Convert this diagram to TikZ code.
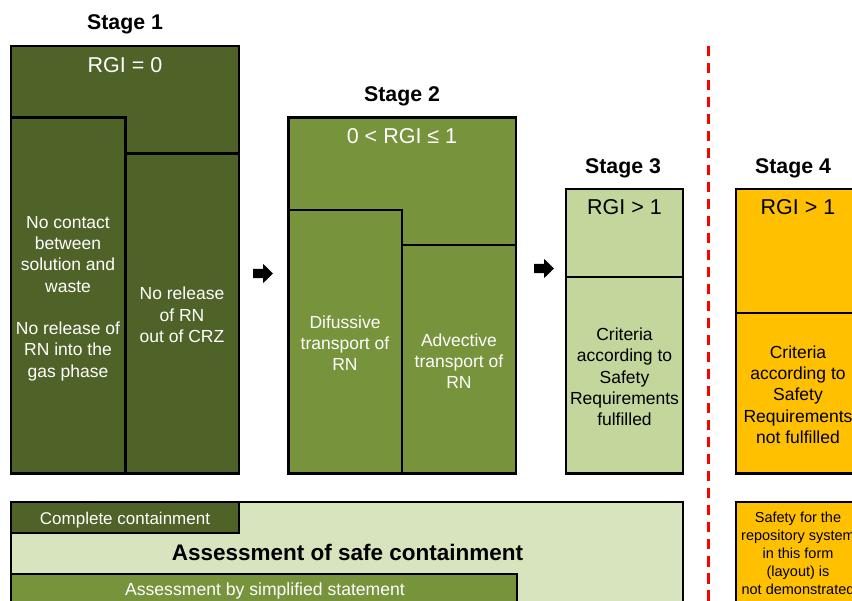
\documentclass[tikz,border=0pt]{standalone}
\usepackage{fontspec}
\setmainfont{Liberation Sans}
\definecolor{dkg}{HTML}{4F6228}
\definecolor{mdg}{HTML}{77933C}
\definecolor{ltg}{HTML}{C3D69B}
\definecolor{vlg}{HTML}{D7E4BD}
\definecolor{org}{HTML}{FFC000}
\tikzset{
  box/.style={draw=black, line width=2.3pt},
  thinbox/.style={draw=black, line width=2pt},
  ttl/.style={font=\fontsize{21.3}{24}\selectfont\bfseries, anchor=base, inner sep=0},
  rgi/.style={font=\fontsize{21.5}{24}\selectfont, anchor=base, inner sep=0},
  body/.style={font=\fontsize{17.5}{21.3}\selectfont, align=center, inner sep=0},
  small/.style={font=\fontsize{14.5}{18}\selectfont, align=center, inner sep=0},
  lbl/.style={font=\fontsize{17}{20}\selectfont, anchor=base, inner sep=0},
  blockarrow/.style={fill=black},
}
\begin{document}
\begin{tikzpicture}[x=1pt,y=-1pt]
\useasboundingbox (0,0) rectangle (852,601);
\clip (0,0) rectangle (852,601);

% Stage 1
\node[ttl] (t1) at (125,29.5) {Stage 1};
\draw[box, fill=dkg] (11,46) rectangle (239,473.5);
\draw[box, fill=dkg] (11,117.5) rectangle (125.5,473.5);
\draw[box, fill=dkg] (125.5,153.5) rectangle (239,473.5);
\node[rgi, text=white] (r1) at (125,73) {RGI = 0};
\node[body, text=white] (s1a) at (68,298.5) {No contact\\between\\solution and\\waste\\[21.3pt]No release of\\RN into the\\gas phase};
\node[body, text=white] (s1b) at (182,315) {No release\\of RN\\out of CRZ};

% Stage 2
\node[ttl] (t2) at (402,101.7) {Stage 2};
\draw[box, fill=mdg] (288.5,117.5) rectangle (516,473.5);
\draw[box, fill=mdg] (288.5,210) rectangle (402.3,473.5);
\draw[box, fill=mdg] (402.3,245) rectangle (516,473.5);
\node[rgi, text=white] (r2) at (402,144) {0 < RGI ≤ 1};
\node[body, text=white] (s2a) at (345,343) {Difussive\\transport of\\RN};
\node[body, text=white] (s2b) at (459,361) {Advective\\transport of\\RN};

% Stage 3
\node[ttl] (t3) at (623,173.3) {Stage 3};
\draw[box, fill=ltg] (566,189) rectangle (683.3,473.5);
\draw[box] (566,277.3) -- (683.3,277.3);
\node[rgi] (r3) at (624.5,215) {RGI > 1};
\node[body] (s3) at (624.5,377) {Criteria\\according to\\Safety\\Requirements\\fulfilled};

% Stage 4
\node[ttl] (t4) at (793,173.3) {Stage 4};
\draw[box, fill=org] (736,189) rectangle (860,473.5);
\draw[box] (736,313.3) -- (860,313.3);
\node[rgi] (r4) at (798,215) {RGI > 1};
\node[body] (s4) at (798,394.5) {Criteria\\according to\\Safety\\Requirements\\not fulfilled};

% arrows
\coordinate (a1) at (253,273.5);
\coordinate (a2) at (534,268.5);
\foreach \c in {a1,a2}{
  \fill[blockarrow] (\c) ++(0,-4.7) -- ++(10,0) -- ++(0,-5) -- ++(10,9.7) -- ++(-10,9.7) -- ++(0,-5) -- ++(-10,0) -- cycle;
}

% red dashed divider
\coordinate (d1) at (708.3,46);
\coordinate (d2) at (708.3,610);
\draw[red, line width=2.4pt, dash pattern=on 10.5pt off 6.5pt] (d1) -- (d2);

% bottom
\draw[thinbox, fill=vlg] (11,502) rectangle (683.3,620);
\draw[thinbox, fill=dkg] (11,502) rectangle (239,532.7);
\node[lbl, text=white] (cc) at (125,524.3) {Complete containment};
\node[font=\fontsize{22.5}{26}\selectfont\bfseries, anchor=base, inner sep=0] (asc) at (347.5,560) {Assessment of safe containment};
\draw[thinbox, fill=mdg] (11,574) rectangle (516.5,620);
\node[font=\fontsize{17.6}{20}\selectfont, anchor=base, inner sep=0, text=white] (abs) at (265,595) {Assessment by simplified statement};

\draw[thinbox, fill=org] (736,502.5) rectangle (860,620);
\node[small] (s4b) at (798,553) {Safety for the\\repository system\\in this form\\(layout) is\\not demonstrated};
\end{tikzpicture}
\end{document}
